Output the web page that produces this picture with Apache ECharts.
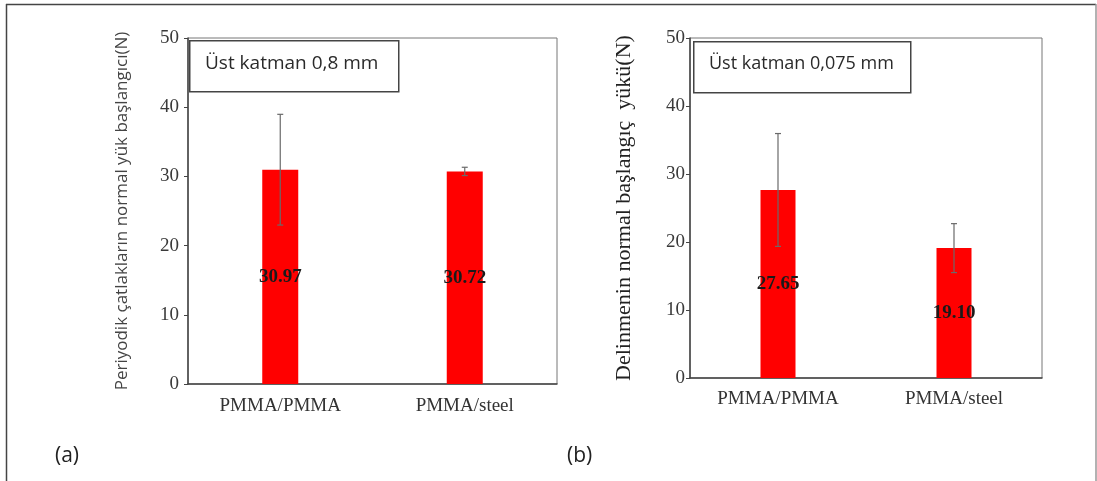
<!DOCTYPE html>
<html>
<head>
<meta charset="utf-8">
<script src="https://cdn.jsdelivr.net/npm/echarts@6/dist/echarts.min.js"></script>
<style>
html,body{margin:0;padding:0;background:#fff;}
#c{width:1097px;height:481px;}
</style>
</head>
<body>
<div id="c"></div>
<script>
// ---- data ----
const categories = ['PMMA/PMMA', 'PMMA/steel'];
const valuesA = [30.97, 30.72];
const errorsA = [8.0, 0.6];
const valuesB = [27.65, 19.10];
const errorsB = [8.3, 3.6];
const yTicks = [0, 10, 20, 30, 40, 50];
const nameA = 'Periyodik çatlakların normal yük başlangıcı(N)';
const nameB = 'Delinmenin normal başlangıç  yükü(N)';
const boxA = 'Üst katman 0,8 mm';
const boxB = 'Üst katman 0,075 mm';
const panelLabels = ['(a)', '(b)'];

const SERIF = "'Liberation Serif','Times New Roman',serif";
const SANS = "'Open Sans','Noto Sans',sans-serif";

const chart = echarts.init(document.getElementById('c'), null, {renderer: 'canvas'});

function errData(vals, errs) {
  return vals.map((v, i) => [i, v - errs[i], v + errs[i]]);
}
function errRender(params, api) {
  const lo = api.coord([api.value(0), api.value(1)]);
  const hi = api.coord([api.value(0), api.value(2)]);
  const cap = 3;
  const st = {stroke: '#6a6a6a', lineWidth: 1.2};
  return {
    type: 'group',
    children: [
      {type: 'line', shape: {x1: hi[0], y1: hi[1], x2: lo[0], y2: lo[1]}, style: st},
      {type: 'line', shape: {x1: hi[0] - cap, y1: hi[1], x2: hi[0] + cap, y2: hi[1]}, style: st},
      {type: 'line', shape: {x1: lo[0] - cap, y1: lo[1], x2: lo[0] + cap, y2: lo[1]}, style: st}
    ]
  };
}

function xAxisCfg(gi, fs, margin) {
  return {
    type: 'category', gridIndex: gi, data: categories,
    axisLine: {show: true, lineStyle: {color: '#444', width: 1.5}},
    axisTick: {show: false},
    axisLabel: {fontFamily: SERIF, fontSize: fs, color: '#333', margin: margin}
  };
}
function yAxisCfg(gi, name, nameFont, nameFs, nameGap, nameColor, lblMargin) {
  return {
    type: 'value', gridIndex: gi, min: 0, max: 50, interval: 10,
    name: name, nameLocation: 'middle', nameGap: nameGap,
    nameTextStyle: {fontFamily: nameFont, fontSize: nameFs, color: nameColor},
    axisLine: {show: true, lineStyle: {color: '#444', width: 1.5}},
    axisTick: {show: true, inside: false, length: 4, lineStyle: {color: '#444'}},
    splitLine: {show: false},
    axisLabel: {fontFamily: SERIF, fontSize: 19, color: '#3a3a3a', margin: lblMargin,
      formatter: v => (yTicks.indexOf(v) >= 0 ? String(v) : '')}
  };
}
function barLabel() {
  return {
    show: true, position: 'inside', fontFamily: SERIF, fontSize: 19, fontWeight: 'bold',
    color: '#1a1a1a', formatter: p => p.value.toFixed(2)
  };
}

const option = {
  animation: false,
  backgroundColor: '#fff',
  grid: [
    {left: 188, right: 540, top: 38, bottom: 97, show: true, borderColor: '#777', borderWidth: 1},
    {left: 690, right: 55, top: 38, bottom: 103, show: true, borderColor: '#777', borderWidth: 1}
  ],
  xAxis: [xAxisCfg(0, 19, 13), xAxisCfg(1, 19, 12)],
  yAxis: [
    yAxisCfg(0, nameA, SANS, 17, 57, '#444', 9),
    yAxisCfg(1, nameB, SERIF, 22, 55, '#222', 5)
  ],
  series: [
    {type: 'bar', xAxisIndex: 0, yAxisIndex: 0, data: valuesA, barWidth: 36,
      itemStyle: {color: '#ff0000'}, label: barLabel()},
    {type: 'custom', xAxisIndex: 0, yAxisIndex: 0, data: errData(valuesA, errorsA),
      renderItem: errRender, z: 5},
    {type: 'bar', xAxisIndex: 1, yAxisIndex: 1, data: valuesB, barWidth: 35,
      itemStyle: {color: '#ff0000'}, label: barLabel()},
    {type: 'custom', xAxisIndex: 1, yAxisIndex: 1, data: errData(valuesB, errorsB),
      renderItem: errRender, z: 5}
  ],
  graphic: [
    {type: 'line', shape: {x1: 6, y1: 4.5, x2: 1096, y2: 4.5}, style: {stroke: '#444', lineWidth: 1.5}, z: 100},
    {type: 'line', shape: {x1: 6.5, y1: 4, x2: 6.5, y2: 481}, style: {stroke: '#444', lineWidth: 1.5}, z: 100},
    {type: 'line', shape: {x1: 1096, y1: 4, x2: 1096, y2: 481}, style: {stroke: '#999', lineWidth: 1.5}, z: 100},
    {type: 'rect', left: 189, top: 40, shape: {width: 209, height: 51},
      style: {fill: '#fff', stroke: '#444', lineWidth: 1.5}, z: 10},
    {type: 'text', left: 205, top: 54, style: {text: boxA, font: "19px 'Open Sans'", fill: '#2a2a2a'}, z: 11},
    {type: 'rect', left: 693, top: 41, shape: {width: 217, height: 51},
      style: {fill: '#fff', stroke: '#444', lineWidth: 1.5}, z: 10},
    {type: 'text', left: 709, top: 55, style: {text: boxB, font: "18px 'Open Sans'", fill: '#2a2a2a'}, z: 11},
    {type: 'text', left: 55, top: 446, style: {text: panelLabels[0], font: "21px 'Open Sans'", fill: '#222'}, z: 11},
    {type: 'text', left: 567, top: 446, style: {text: panelLabels[1], font: "21px 'Open Sans'", fill: '#222'}, z: 11}
  ]
};
chart.setOption(option);
</script>
</body>
</html>
